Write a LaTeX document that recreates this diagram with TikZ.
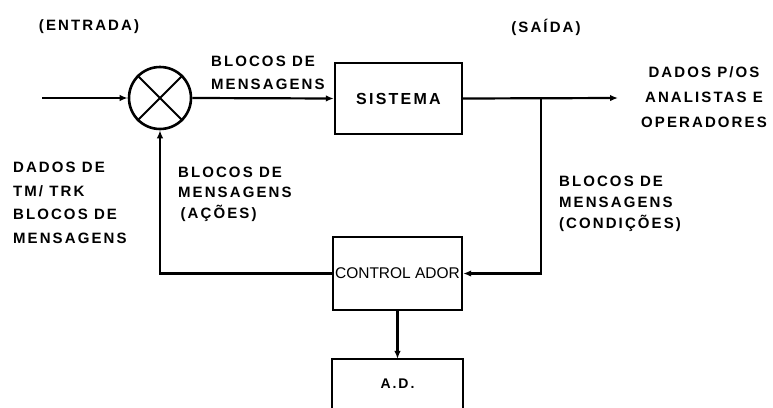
\documentclass[tikz,border=0pt]{standalone}
\usepackage{fontspec}
\setmainfont{Liberation Sans}
\newfontfamily\lbl{Liberation Sans}[LetterSpace=14]
\usetikzlibrary{arrows.meta}
\begin{document}
\begin{tikzpicture}[x=1pt,y=-1pt,
  line width=2.2pt,
  arr/.style={-{Latex[length=8pt,width=6.5pt]}},
  blk/.style={draw,rectangle,inner sep=0pt,line width=2.4pt},
  lab/.style={inner sep=0pt,font={\lbl\bfseries\fontsize{15}{#1}\selectfont}},
  lab/.default=23]
\useasboundingbox (0,0) rectangle (773,407);
% blocks
\node[draw,circle,minimum size=62pt,inner sep=0pt,line width=2.6pt] (sum) at (160,98) {};
\draw[line width=2pt] (sum.45) -- (sum.225) (sum.135) -- (sum.315);
\node[blk,minimum width=127pt,minimum height=71pt] (sis) at (398.5,98.5)
  {\lbl\bfseries\fontsize{16}{18}\selectfont SISTEMA};
\node[blk,minimum width=129pt,minimum height=73pt] (ctrl) at (397.5,273.5)
  {\fontsize{15.5}{17}\selectfont CONTROL ADOR};
\node[inner sep=0pt,minimum width=129pt,minimum height=47pt] (ad) at (397.5,383.5)
  {\lbl\bfseries\fontsize{14}{16}\selectfont A.D.};
\draw[line width=2.4pt] (ad.south west) -- (ad.north west) -- (ad.north east) -- (ad.south east);
% coordinates
\coordinate (in) at (42,98);
\coordinate (out) at (618,98);
\coordinate (br) at (541,98);
% connectors
\draw[arr] (in) -- (sum.west);
\draw[arr] (sum.east) -- (sis.west);
\draw[arr] (sis.east) -- (out);
\draw[arr] (br) |- (ctrl.east);
\draw[arr] (ctrl.west) -| (sum.south);
\draw[arr] (ctrl.south) -- (ad.north);
% labels
\node[lab] (tin) at (89,27) {(ENTRADA)};
\node[lab] (tout) at (546,27) {(SAÍDA)};
\node[lab,align=left,anchor=west] (t1) at (210,73) {BLOCOS DE\\MENSAGENS};
\node[lab=25,align=center] (t2) at (704,97) {DADOS P/OS\\ANALISTAS E\\OPERADORES};
\node[lab=23.5,align=left,anchor=west] (t3) at (12,203) {DADOS DE\\TM/ TRK\\BLOCOS DE\\MENSAGENS};
\node[lab=20.5,align=left,anchor=west] (t4) at (177,194) {BLOCOS DE\\MENSAGENS\\\,(AÇÕES)};
\node[lab=21,align=left,anchor=west] (t5) at (558,204) {BLOCOS DE\\MENSAGENS\\(CONDIÇÕES)};
\end{tikzpicture}
\end{document}
